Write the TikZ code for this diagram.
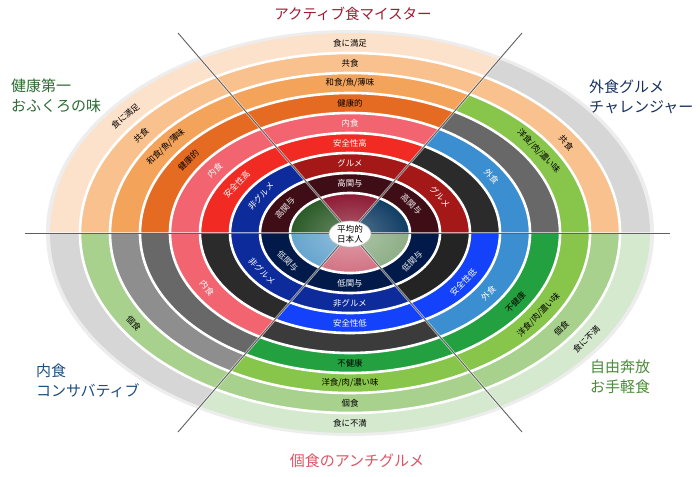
\documentclass[tikz,border=0pt]{standalone}
\usepackage{fontspec}
\setmainfont{Noto Sans CJK JP}
\usetikzlibrary{shapes.geometric}
% ring colours (p = upper dichotomy, g/b = lower dichotomy, n = neutral)
\definecolor{pa}{HTML}{FDE2CB}\definecolor{pb}{HTML}{F8C18E}
\definecolor{pc}{HTML}{F4A35A}\definecolor{pd}{HTML}{E46B21}
\definecolor{pe}{HTML}{F2646F}\definecolor{pf}{HTML}{F12A23}
\definecolor{pg}{HTML}{A51818}\definecolor{ph}{HTML}{3E0D16}
\definecolor{ga}{HTML}{D5E9CF}\definecolor{gb}{HTML}{A8D18E}
\definecolor{gc}{HTML}{87C54B}\definecolor{gd}{HTML}{23A140}
\definecolor{be}{HTML}{3B8ED0}\definecolor{bf}{HTML}{1342FA}
\definecolor{bg}{HTML}{0E2B9B}\definecolor{bh}{HTML}{021A4A}
\definecolor{na}{HTML}{D6D6D6}\definecolor{nc}{HTML}{8E8E8E}
\definecolor{nd}{HTML}{686868}\definecolor{ne}{HTML}{3B3B3B}
\definecolor{nf}{HTML}{2B2B2B}\definecolor{ng}{HTML}{242424}
\definecolor{cT}{HTML}{8C1A33}\definecolor{cUL}{HTML}{2B5A27}
\definecolor{cUR}{HTML}{0F3C63}\definecolor{cLR}{HTML}{8DAE86}
\definecolor{cB}{HTML}{D27384}\definecolor{cLL}{HTML}{66A4CE}
\definecolor{tTop}{HTML}{9E1B32}\definecolor{tUL}{HTML}{2E6B34}
\definecolor{tUR}{HTML}{17325F}\definecolor{tLL}{HTML}{1D4E80}
\definecolor{tLR}{HTML}{4B8B3B}\definecolor{tB}{HTML}{DD5565}
% rings of one sector: 8 ring colours then the centre colour
\newcommand\ringset[1]{%
  \foreach \c [count=\k from 0] in {#1} {%
    \pgfmathsetmacro\ry{200-20*\k}%
    \pgfmathsetmacro\rx{1.5*\ry}%
    \ifnum\k<8
      \fill[\c] (C) ellipse [x radius=\rx pt, y radius=\ry pt];
    \else
      \shade[inner color=\c!70!white, outer color=\c] (C) ellipse [x radius=\rx pt, y radius=\ry pt];
    \fi
    \ifnum\k>0 \draw[white, line width=2.6pt] (C) ellipse [x radius=\rx pt, y radius=\ry pt];\fi
  }}
% ring label: name, ring (1..8), parametric angle, colour, text
\newcommand\rl[5]{%
  \pgfmathsetmacro\rlR{210-20*#2}%
  \pgfmathsetmacro\rlX{350+1.5*\rlR*cos(#3)}%
  \pgfmathsetmacro\rlY{233-\rlR*sin(#3)}%
  \pgfmathsetmacro\rlA{atan(cos(#3)/(-1.5*sin(#3)))}%
  \node[lab, text=#4, rotate=\rlA] (#1) at (\rlX,\rlY) {#5};}
\begin{document}
\begin{tikzpicture}[x=1pt, y=-1pt,
  lab/.style={font=\fontsize{8.4}{9}\selectfont, inner sep=0pt},
  ttl/.style={font=\fontsize{15}{20.5}\selectfont, inner sep=0pt, align=left, anchor=west},
  sepline/.style={draw=gray!75!black, line width=0.9pt,
    preaction={draw=white, line width=2.4pt, opacity=0.6}}]
\useasboundingbox (0,0) rectangle (700,476);
\fill[white] (0,0) rectangle (700,476);
\coordinate (C) at (350,233);
\coordinate (ul) at (178,33);
\coordinate (ur) at (522,33);
\coordinate (ll) at (178,432);
\coordinate (lr) at (522,432);
\coordinate (hl) at (25,233);
\coordinate (hr) at (670,233);
% halo
\fill[gray!14] (C) ellipse [x radius=304pt, y radius=203pt];
% sectors
\begin{scope}
  \clip (C) -- (6,-167) -- (694,-167) -- cycle;
  \ringset{pa,pb,pc,pd,pe,pf,pg,ph,cT}
\end{scope}
\begin{scope}
  \clip (C) -- (694,-167) -- (1100,-167) -- (1100,233) -- cycle;
  \ringset{na,pb,gc,nd,be,nf,pg,ph,cUR}
\end{scope}
\begin{scope}
  \clip (C) -- (1100,233) -- (1100,633) -- (694,633) -- cycle;
  \ringset{ga,gb,gc,gd,be,bf,ng,bh,cLR}
\end{scope}
\begin{scope}
  \clip (C) -- (694,633) -- (6,633) -- cycle;
  \ringset{ga,gb,gc,gd,ne,bf,bg,bh,cB}
\end{scope}
\begin{scope}
  \clip (C) -- (6,633) -- (-400,633) -- (-400,233) -- cycle;
  \ringset{na,gb,nc,nd,pe,nf,bg,bh,cLL}
\end{scope}
\begin{scope}
  \clip (C) -- (-400,233) -- (-400,-167) -- (6,-167) -- cycle;
  \ringset{pa,pb,pc,pd,pe,pf,bg,ph,cUL}
\end{scope}
% separating lines
\draw[sepline] (ul) -- (lr);
\draw[sepline] (ur) -- (ll);
\draw[sepline] (hl) -- (hr);
% centre node
\node[ellipse, fill=white, draw=gray!50, line width=0.6pt, minimum width=42pt, minimum height=26pt,
  inner sep=0pt, align=center, font=\fontsize{8.6}{10}\selectfont] (avg) at (350,234) {平均的\\日本人};
% top sector labels
\rl{t1}{1}{90}{black}{食に満足}
\rl{t2}{2}{90}{black}{共食}
\rl{t3}{3}{90}{black}{和食/魚/薄味}
\rl{t4}{4}{90}{black}{健康的}
\rl{t5}{5}{90}{white}{内食}
\rl{t6}{6}{90}{white}{安全性高}
\rl{t7}{7}{90}{white}{グルメ}
\rl{t8}{8}{90}{white}{高関与}
% upper-left labels
\rl{a1}{1}{142}{black}{食に満足}
\rl{a2}{2}{145}{black}{共食}
\rl{a3}{3}{145}{black}{和食/魚/薄味}
\rl{a4}{4}{146}{black}{健康的}
\rl{a5}{5}{145}{white}{内食}
\rl{a6}{6}{147}{white}{安全性高}
\rl{a7}{7}{148}{white}{非グルメ}
\rl{a8}{8}{150}{white!85!gray}{高関与}
% upper-right labels
\rl{r2}{2}{32}{black}{共食}
\rl{r3}{3}{33}{black}{洋食/肉/濃い味}
\rl{r5}{5}{31}{white}{外食}
\rl{r7}{7}{31}{white}{グルメ}
\rl{r8}{8}{35}{white!85!gray}{高関与}
% lower-right labels
\rl{s1}{1}{326}{black}{食に不満}
\rl{s2}{2}{326}{black}{個食}
\rl{s3}{3}{327}{black}{洋食/肉/濃い味}
\rl{s4}{4}{328}{black}{不健康}
\rl{s5}{5}{327}{white}{外食}
\rl{s6}{6}{327}{white}{安全性低}
\rl{s8}{8}{326}{white!85!gray}{低関与}
% bottom labels
\rl{b1}{1}{270}{black}{食に不満}
\rl{b2}{2}{270}{black}{個食}
\rl{b3}{3}{270}{black}{洋食/肉/濃い味}
\rl{b4}{4}{270}{black}{不健康}
\rl{b6}{6}{270}{white}{安全性低}
\rl{b7}{7}{270}{white}{非グルメ}
\rl{b8}{8}{270}{white}{低関与}
% lower-left labels
\rl{l2}{2}{212}{black}{個食}
\rl{l5}{5}{210}{white}{内食}
\rl{l7}{7}{213}{white}{非グルメ}
\rl{l8}{8}{214}{white!85!gray}{低関与}
% titles
\node[ttl, anchor=center, text=tTop, font=\fontsize{14.5}{18}\selectfont] (ttop) at (353,14) {アクティブ食マイスター};
\node[ttl, text=tUL] (tul) at (11,96) {健康第一\\おふくろの味};
\node[ttl, text=tUR] (tur) at (589,97) {外食グルメ\\チャレンジャー};
\node[ttl, text=tLL] (tll) at (36,381) {内食\\コンサバティブ};
\node[ttl, text=tLR] (tlr) at (590,377) {自由奔放\\お手軽食};
\node[ttl, anchor=center, text=tB] (tbot) at (357,461) {個食のアンチグルメ};
\end{tikzpicture}
\end{document}
